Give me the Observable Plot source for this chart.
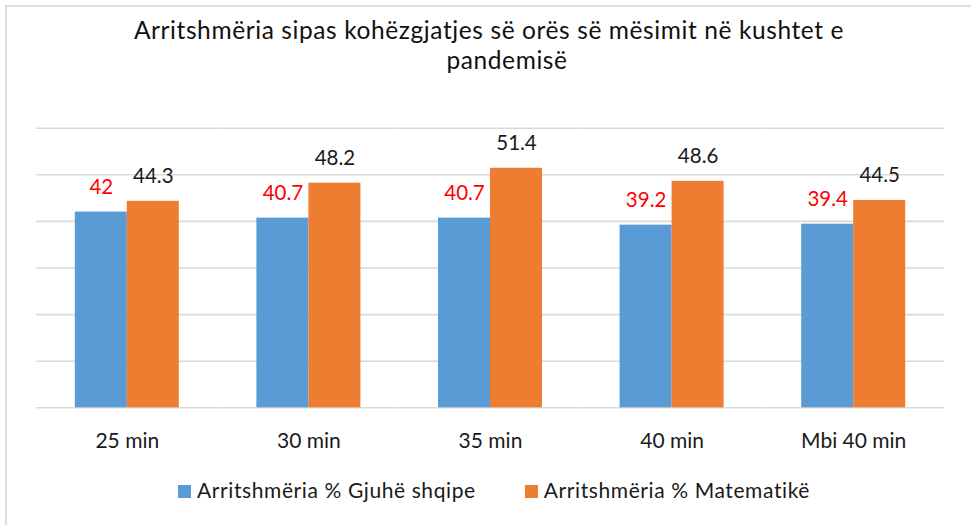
<!DOCTYPE html>
<html>
<head>
<meta charset="utf-8">
<script src="https://cdn.jsdelivr.net/npm/d3@7"></script>
<script src="https://cdn.jsdelivr.net/npm/@observablehq/plot@0.6"></script>
<style>
  html, body { margin: 0; padding: 0; background: #fff; }
  #chart { position: relative; width: 971px; height: 525px; overflow: hidden; font-family: Lato, sans-serif; color: #111; }
  #frame { position: absolute; left: 5px; top: 5px; width: 1100px; height: 700px; border-left: 2px solid #dedede; border-top: 2px solid #dedede; }
  .tline { position: absolute; white-space: nowrap; font-size: 24.5px; letter-spacing: 0.6px; line-height: 28px; transform: translateX(-50%); }
  #plot { position: absolute; left: 0; top: 0; }
  #legend { position: absolute; top: 478px; left: 494px; transform: translateX(-50%); display: flex; gap: 49px; white-space: nowrap; font-size: 21px; letter-spacing: 0.6px; line-height: 24px; color: #1a1a1a; }
  .item { display: flex; align-items: baseline; gap: 6px; }
  .sw { display: inline-block; width: 13px; height: 13px; }
</style>
</head>
<body>
<div id="chart">
  <div id="frame"></div>
  <div class="tline" id="t1" style="left:489px; top:15.5px;"></div>
  <div class="tline" id="t2" style="left:507px; top:45.5px;"></div>
  <div id="plot"></div>
  <div id="legend"></div>
</div>
<script>
const titleLines = ["Arritshmëria sipas kohëzgjatjes së orës së mësimit në kushtet e", "pandemisë"];
const categories = ["25 min", "30 min", "35 min", "40 min", "Mbi 40 min"];
const seriesNames = ["Arritshmëria % Gjuhë shqipe", "Arritshmëria % Matematikë"];
const gjuheValues = [42, 40.7, 40.7, 39.2, 39.4];
const matematikeValues = [44.3, 48.2, 51.4, 48.6, 44.5];
const seriesColors = ["#5B9BD5", "#ED7D31"];
const labelColors = ["#FF0000", "#1a1a1a"];
const yTicks = [0, 10, 20, 30, 40, 50, 60];

document.getElementById("t1").textContent = titleLines[0];
document.getElementById("t2").textContent = titleLines[1];

const seriesValues = [gjuheValues, matematikeValues];
const data = [];
categories.forEach((c, i) => {
  seriesNames.forEach((s, j) => {
    data.push({cat: c, series: s, value: seriesValues[j][i], labelColor: labelColors[j]});
  });
});

const chart = Plot.plot({
  width: 971,
  height: 525,
  marginTop: 127.7,
  marginBottom: 117.7,
  marginLeft: 36,
  marginRight: 27,
  style: {fontFamily: "Lato, sans-serif", background: "transparent"},
  fx: {domain: categories, padding: 0, round: false, label: null},
  x: {domain: seriesNames, paddingInner: 0, paddingOuter: 0.746, round: false, axis: null},
  y: {domain: [0, 60], axis: null},
  color: {domain: seriesNames, range: seriesColors},
  marks: [
    Plot.ruleY(yTicks, {stroke: "#d9d9d9", strokeWidth: 1.6}),
    Plot.barY(data, {fx: "cat", x: "series", y: "value", fill: "series"}),
    Plot.text(data, {
      fx: "cat", x: "series", y: "value",
      text: d => String(d.value),
      fill: d => d.labelColor,
      lineAnchor: "bottom", dy: -18.5,
      fontSize: 20.5
    }),
    Plot.axisFx({anchor: "bottom", tickSize: 0, tickPadding: 24.8, fontSize: 21, fill: "#1a1a1a", label: null})
  ]
});
document.getElementById("plot").appendChild(chart);

const legend = document.getElementById("legend");
seriesNames.forEach((s, j) => {
  const item = document.createElement("div");
  item.className = "item";
  const sw = document.createElement("span");
  sw.className = "sw";
  sw.style.background = seriesColors[j];
  const t = document.createElement("span");
  t.textContent = s;
  item.appendChild(sw);
  item.appendChild(t);
  legend.appendChild(item);
});
</script>
</body>
</html>
